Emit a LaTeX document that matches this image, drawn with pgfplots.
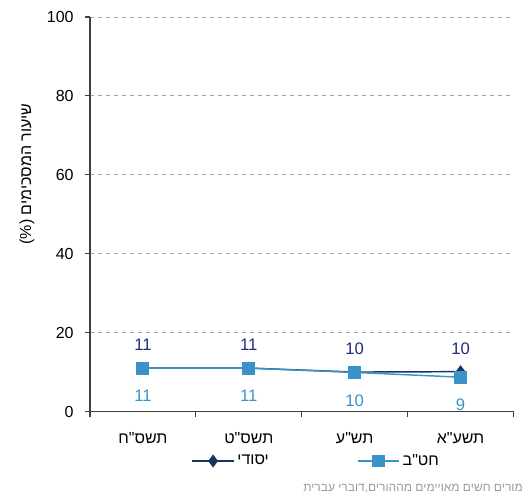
\documentclass[border=0pt]{standalone}
\usepackage{fontspec}
\setmainfont{Liberation Sans}
\newfontfamily\heb[Script=Hebrew]{Liberation Sans}
\TeXXeTstate=1
\usepackage{pgfplots}
\pgfplotsset{compat=1.18}
\definecolor{navy}{HTML}{17365D}
\definecolor{navylab}{HTML}{1F2A80}
\definecolor{lblue}{HTML}{3B92C8}
\definecolor{axisgray}{HTML}{404040}
\definecolor{gridgray}{HTML}{A6A6A6}
\definecolor{footgray}{HTML}{9A9A9A}
\begin{document}
\begin{tikzpicture}
\begin{axis}[
  at={(0pt,0pt)}, anchor=south west,
  scale only axis, width=317.625pt, height=295.875pt,
  xmin=-0.5, xmax=3.5, ymin=0, ymax=100,
  axis lines*=left,
  axis line style={axisgray, line width=1.1pt},
  xtick={-0.5,0.5,1.5,2.5,3.5},
  x tick label as interval,
  xticklabels={{\heb\beginR תשס"ח\endR},{\heb\beginR תשס"ט\endR},{\heb\beginR תש"ע\endR},{\heb\beginR תשע"א\endR}},
  ytick={0,20,40,60,80,100},
  tick align=outside,
  major tick length=3.75pt,
  tick style={axisgray, line width=0.8pt},
  ymajorgrids,
  grid style={gridgray, dashed, line width=0.6pt},
  /pgf/number format/assume math mode=true,
  tick label style={font=\fontsize{12}{14}\selectfont, text=black},
  yticklabel style={xshift=-5pt},
  xticklabel style={yshift=-8.5pt},
  ylabel={(\%) {\heb\beginR שיעור המסכימים\endR}},
  ylabel style={at={(rel axis cs:-0.1488,0.602)}, anchor=center, font=\fontsize{12}{14}\selectfont},
  legend style={at={(0.535,-0.1255)}, anchor=center, draw=none, fill=none,
    font=\fontsize{12}{14}\selectfont,
    /tikz/every even column/.append style={column sep=64pt}},
  legend columns=2,
  legend cell align=left,
  legend image code/.code={\draw[mark repeat=2,mark phase=2] plot coordinates {(0cm,0cm) (0.55cm,0cm) (1.1cm,0cm)};},
]
\addplot[navy, line width=1.1pt, mark=diamond*, mark size=4pt, mark options={fill=navy, solid},
  nodes near coords, point meta=explicit symbolic,
  every node near coord/.append style={font=\fontsize{12.5}{14}\selectfont, text=navylab, anchor=center, yshift=17.25pt}]
  table[meta=lab] {
x y lab
0 11 11
1 11 11
2 10 10
3 10.1 10
};
\addlegendentry{\heb\beginR יסודי\endR}
\addplot[lblue, line width=1.1pt, mark=square*, mark size=4.3pt, mark options={fill=lblue, solid},
  nodes near coords, point meta=explicit symbolic,
  every node near coord/.append style={font=\fontsize{12.5}{14}\selectfont, text=lblue, anchor=center, yshift=-21pt}]
  table[meta=lab] {
x y lab
0 11 11
1 11 11
2 9.9 10
3 8.7 9
};
\addlegendentry{\heb\beginR חט"ב\endR}
\end{axis}
\node[overlay, anchor=west, inner sep=0pt, text=footgray] at (159.75pt,-58pt) {\heb\fontsize{9}{11}\selectfont\beginR מורים חשים מאויימים מההורים,דוברי  עברית\endR};
\pgfresetboundingbox
\path[use as bounding box] (-67.5pt,-63.375pt) rectangle (325.5pt,308.625pt);
\end{tikzpicture}
\end{document}
